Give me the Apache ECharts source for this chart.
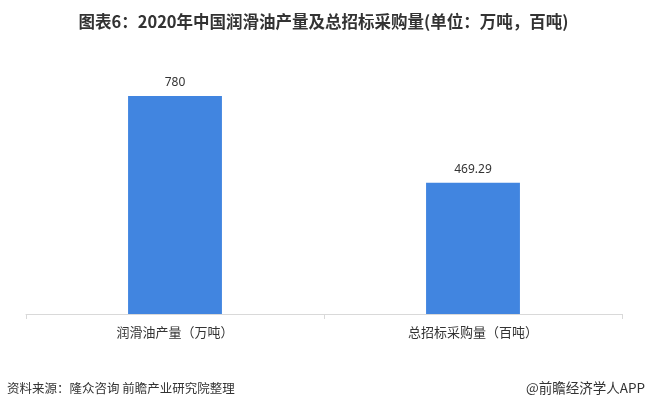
<!DOCTYPE html>
<html><head><meta charset="utf-8">
<script src="https://cdn.jsdelivr.net/npm/echarts@6/dist/echarts.min.js"></script>
<style>html,body{margin:0;padding:0;background:#fff}#c{width:647px;height:402px}</style>
</head><body><div id="c"></div>
<script>
const categories = ['润滑油产量（万吨）', '总招标采购量（百吨）'];
const values = [780, 469.29];
const valueLabels = ['780', '469.29'];

const chart = echarts.init(document.getElementById('c'), null, {renderer: 'canvas'});
chart.setOption({
  animation: false,
  backgroundColor: '#ffffff',
  title: [{
    text: '图表6：2020年中国润滑油产量及总招标采购量(单位：万吨，百吨)',
    left: 'center', top: 8,
    textStyle: {fontSize: 16.5, fontWeight: 'bold', color: '#333333', fontFamily: '"Noto Sans CJK SC", sans-serif'}
  }],
  graphic: [
    {type: 'text', left: 7, top: 382, style: {text: '资料来源：隆众咨询 前瞻产业研究院整理', fontSize: 12.5, fill: '#333333', fontFamily: '"Noto Sans CJK SC", sans-serif'}},
    {type: 'text', right: 2, top: 381, style: {text: '@前瞻经济学人APP', fontSize: 13.5, fill: '#333333', fontFamily: '"Noto Sans CJK SC", sans-serif'}}
  ],
  grid: {left: 26, right: 25, top: 34.5, bottom: 88, containLabel: false},
  xAxis: {
    type: 'category', data: categories,
    axisLine: {lineStyle: {color: '#d9d9d9', width: 1}},
    axisTick: {show: true, length: 5, lineStyle: {color: '#d9d9d9'}},
    axisLabel: {color: '#333333', fontSize: 13, margin: 12, fontFamily: '"Noto Sans CJK SC", sans-serif'}
  },
  yAxis: {type: 'value', min: 0, max: 1000, show: false, splitLine: {show: false}},
  series: [{
    type: 'bar', data: values, barWidth: '31.5%',
    itemStyle: {color: '#4185e0'},
    label: {show: true, position: 'top', distance: 7, color: '#333333', fontSize: 12,
      fontFamily: '"Noto Sans", sans-serif',
      formatter: p => valueLabels[p.dataIndex]}
  }]
});
</script></body></html>
